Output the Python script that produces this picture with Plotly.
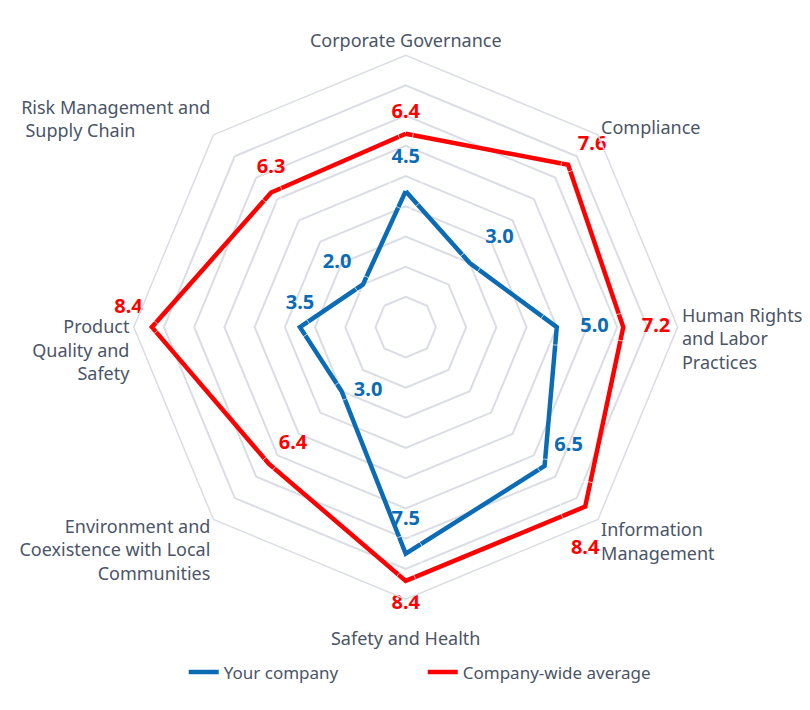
import plotly.graph_objects as go

categories = [
    "Corporate Governance",
    "Compliance",
    "<br>Human Rights<br>and Labor<br>Practices",
    "Information<br>Management",
    "<br>Safety and Health",
    "Environment and<br>Coexistence with Local<br>Communities",
    "<br><br>Product<br>Quality and<br>Safety",
    "Risk Management and<br>Supply Chain" + "&nbsp;" * 16,
]
your_company = [4.5, 3.0, 5.0, 6.5, 7.5, 3.0, 3.5, 2.0]
company_avg = [6.4, 7.6, 7.2, 8.4, 8.4, 6.4, 8.4, 6.3]

BLUE = "#0b6bb5"
RED = "#ff0000"
TXT = "#4a5568"
GRID = "#dadde4"

# label placement styles (offset driven by invisible marker size)
blue_pos = ["top center", "top right", "middle right", "top right",
            "top center", "middle right", "top center", "top left"]
blue_pad = [36, 23, 36, 14, 36, 18, 20, 17]
red_pos = ["top center", "top right", "middle right", "bottom center",
           "bottom center", "top right", "top left", "top center"]
red_pad = [15, 14, 28, 50, 20, 14, 13, 22]

cats_closed = categories + categories[:1]
fig = go.Figure()
fig.add_trace(go.Scatterpolar(
    r=your_company + your_company[:1], theta=cats_closed, mode="lines",
    name="Your company", line=dict(color=BLUE, width=4.5)))
fig.add_trace(go.Scatterpolar(
    r=company_avg + company_avg[:1], theta=cats_closed, mode="lines",
    name="Company-wide average", line=dict(color=RED, width=4.5)))

fig.add_trace(go.Scatterpolar(
    r=your_company, theta=categories, mode="markers+text",
    text=[f"{v:.1f}" for v in your_company], textposition=blue_pos,
    marker=dict(size=blue_pad, color="rgba(0,0,0,0)"),
    textfont=dict(family="Noto Sans", size=20, color=BLUE, weight="bold"),
    showlegend=False, hoverinfo="skip"))
fig.add_trace(go.Scatterpolar(
    r=company_avg, theta=categories, mode="markers+text",
    text=[f"{v:.1f}" for v in company_avg], textposition=red_pos,
    marker=dict(size=red_pad, color="rgba(0,0,0,0)"),
    textfont=dict(family="Noto Sans", size=20, color=RED, weight="bold"),
    showlegend=False, hoverinfo="skip"))

fig.update_layout(
    width=810, height=710,
    margin=dict(l=0, r=0, t=0, b=0),
    paper_bgcolor="white", plot_bgcolor="white",
    font=dict(family="Noto Sans", size=18, color=TXT),
    polar=dict(
        domain=dict(x=[0.155, 0.827], y=[0.1675, 0.9335]),
        gridshape="linear",
        bgcolor="white",
        radialaxis=dict(range=[0, 9], dtick=1, showticklabels=False,
                        showline=False, ticks="", gridcolor=GRID, gridwidth=1.5),
        angularaxis=dict(rotation=90, direction="clockwise", showgrid=False,
                         showline=True, linecolor=GRID, linewidth=1.5, ticks="",
                         tickfont=dict(family="Noto Sans", size=18, color=TXT)),
    ),
    legend=dict(orientation="h", x=0.512, xanchor="center", y=0.064, yanchor="middle",
                font=dict(family="Noto Sans", size=17, color=TXT),
                entrywidth=194, entrywidthmode="pixels"),
)
fig.write_html("out.html")
